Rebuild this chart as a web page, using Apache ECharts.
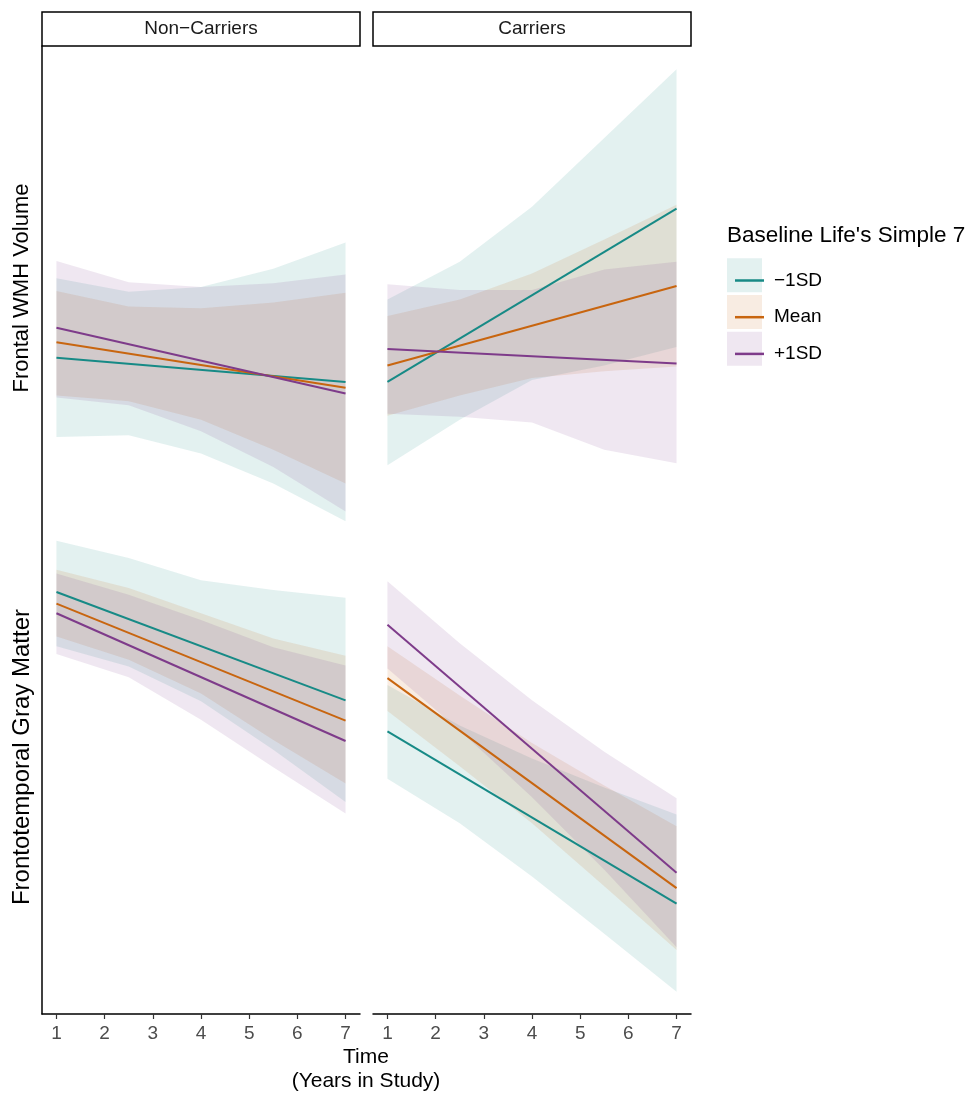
<!DOCTYPE html>
<html>
<head>
<meta charset="utf-8">
<script src="https://cdn.jsdelivr.net/npm/echarts@6/dist/echarts.min.js"></script>
<style>
    html, body { margin: 0; padding: 0; background: #fff; }
    #chart { width: 972px; height: 1093px; }
</style>
</head>
<body>
<div id="chart"></div>
<script>
// ---- data (shared y scale, arbitrary units: WMH block on top, gray matter below) ----
const groups = ['\u22121SD', 'Mean', '+1SD'];
const panels = ['Non\u2212Carriers', 'Carriers'];
const xTicks = [1, 2, 3, 4, 5, 6, 7];
const bandX = [1, 2.5, 4, 5.5, 7];   // where the ribbons were evaluated
const fitX = [1, 7];                 // straight fitted lines

// Non-Carriers, Frontal WMH Volume
const ncWmhFit = [[67.8, 65.3], [69.4, 64.7], [70.9, 64.1]];
const ncWmhLo = [[59.6, 59.8, 57.9, 54.8, 50.9], [63.9, 63.3, 61.4, 58.3, 54.8], [63.7, 62.9, 60.2, 56.5, 51.9]];
const ncWmhHi = [[76.0, 74.6, 75.1, 77.0, 79.7], [74.7, 73.1, 72.9, 73.5, 74.5], [77.8, 75.6, 75.1, 75.5, 76.4]];

// Carriers, Frontal WMH Volume
const cWmhFit = [[65.3, 83.2], [67.0, 75.2], [68.7, 67.2]];
const cWmhLo = [[56.7, 61.4, 65.5, 67.0, 68.9], [61.8, 63.9, 65.7, 66.4, 66.9], [62.0, 61.7, 61.1, 58.3, 56.9]];
const cWmhHi = [[73.8, 77.7, 83.4, 90.5, 97.6], [72.1, 73.8, 76.5, 80.0, 83.6], [75.4, 74.8, 74.8, 76.9, 77.7]];

// Non-Carriers, Frontotemporal Gray Matter
const ncGmFit = [[43.6, 32.4], [42.4, 30.3], [41.4, 28.2]];
const ncGmLo = [[38.0, 35.9, 32.3, 27.3, 21.9], [39.0, 36.6, 33.1, 28.3, 23.8], [37.2, 34.8, 30.4, 25.5, 20.7]];
const ncGmHi = [[48.9, 47.1, 44.8, 43.8, 43.0], [45.9, 44.0, 41.4, 38.8, 37.0], [45.5, 43.3, 40.7, 37.9, 36.0]];

// Carriers, Frontotemporal Gray Matter
const cGmFit = [[29.2, 11.4], [34.7, 13.0], [40.2, 14.6]];
const cGmLo = [[24.3, 19.7, 14.2, 8.3, 2.3], [31.3, 25.6, 19.7, 13.2, 6.6], [35.7, 29.3, 22.4, 14.9, 6.9]];
const cGmHi = [[34.0, 29.8, 26.4, 23.4, 20.6], [38.0, 32.9, 28.0, 23.6, 19.4], [44.7, 38.3, 32.4, 27.1, 22.3]];

const colors = ['#178A86', '#C8650F', '#7E3B8A'];
const FONT = '"Liberation Sans", Arial, Helvetica, sans-serif';

const chart = echarts.init(document.getElementById('chart'));

// [panel index, fit, lower, upper]
const blocks = [
    [0, ncWmhFit, ncWmhLo, ncWmhHi],
    [1, cWmhFit, cWmhLo, cWmhHi],
    [0, ncGmFit, ncGmLo, ncGmHi],
    [1, cGmFit, cGmLo, cGmHi],
];

// ribbon: one polygon per series, built on the first data item
function ribbonRenderer(color) {
    return function (params, api) {
        if (params.dataIndexInside !== 0) return null;
        const n = params.dataInsideLength;
        const top = [], bottom = [];
        for (let i = 0; i < n; i++) {
            top.push(api.coord([api.value(0, i), api.value(2, i)]));
            bottom.unshift(api.coord([api.value(0, i), api.value(1, i)]));
        }
        return {
            type: 'polygon',
            shape: { points: top.concat(bottom) },
            style: { fill: color, opacity: 0.12 },
        };
    };
}

const bands = [];
const lines = [];
blocks.forEach(([p, fit, lo, hi]) => {
    groups.forEach((g, gi) => {
        bands.push({
            type: 'custom', xAxisIndex: p, yAxisIndex: p,
            data: bandX.map((x, i) => [x, lo[gi][i], hi[gi][i]]),
            encode: { x: 0, y: [1, 2] },
            renderItem: ribbonRenderer(colors[gi]),
            silent: true, z: 1, animation: false,
        });
        lines.push({
            name: g, type: 'line', xAxisIndex: p, yAxisIndex: p,
            data: fitX.map((x, i) => [x, fit[gi][i]]),
            symbol: 'none', silent: true, z: 3, animation: false,
            lineStyle: { color: colors[gi], width: 2 },
            itemStyle: { color: colors[gi] },
        });
    });
});

const xAxisBase = {
    type: 'value', min: 0.7, max: 7.3,
    axisLine: { lineStyle: { color: '#000', width: 1.5 } },
    axisTick: { customValues: xTicks, length: 5, lineStyle: { color: '#333', width: 1.2 } },
    axisLabel: { customValues: xTicks, fontSize: 19, fontFamily: FONT, color: '#4d4d4d', margin: 10 },
    splitLine: { show: false },
};
const yAxisBase = {
    type: 'value', min: 0, max: 100,
    axisTick: { show: false }, axisLabel: { show: false }, splitLine: { show: false },
};

const keyY = [258.3, 295, 331.7];

chart.setOption({
    backgroundColor: '#fff',
    animation: false,
    grid: [
        { left: 42, top: 46, width: 318, height: 968 },
        { left: 373, top: 46, width: 318, height: 968 },
    ],
    xAxis: [
        { ...xAxisBase, gridIndex: 0 },
        { ...xAxisBase, gridIndex: 1 },
    ],
    yAxis: [
        { ...yAxisBase, gridIndex: 0, axisLine: { show: true, lineStyle: { color: '#000', width: 1.5 } } },
        { ...yAxisBase, gridIndex: 1, axisLine: { show: false } },
    ],
    legend: {
        data: groups, orient: 'vertical', left: 730, top: 258,
        icon: 'rect', itemWidth: 29, itemHeight: 2.5, itemGap: 1.7,
        selectedMode: false,
        textStyle: { fontSize: 19, fontFamily: FONT, color: '#000', lineHeight: 35, padding: [0, 0, 0, 5] },
    },
    graphic: [
        // facet strips
        ...panels.map((t, i) => ({
            type: 'group', children: [
                { type: 'rect', shape: { x: [42, 373][i], y: 12, width: 318, height: 34 },
                  style: { fill: '#fff', stroke: '#000', lineWidth: 1.5 } },
                { type: 'text', x: [201, 532][i], y: 29,
                  style: { text: t, fontSize: 19, fontFamily: FONT, fill: '#1a1a1a', align: 'center', verticalAlign: 'middle' } },
            ],
        })),
        // y titles
        { type: 'text', x: 22, y: 288, rotation: Math.PI / 2,
          style: { text: 'Frontal WMH Volume', fontSize: 22, fontFamily: FONT, fill: '#000', align: 'center', verticalAlign: 'middle' } },
        { type: 'text', x: 22, y: 757, rotation: Math.PI / 2,
          style: { text: 'Frontotemporal Gray Matter', fontSize: 24, fontFamily: FONT, fill: '#000', align: 'center', verticalAlign: 'middle' } },
        // x title
        { type: 'text', x: 366, y: 1057,
          style: { text: 'Time', fontSize: 21, fontFamily: FONT, fill: '#000', align: 'center', verticalAlign: 'middle' } },
        { type: 'text', x: 366, y: 1081,
          style: { text: '(Years in Study)', fontSize: 21, fontFamily: FONT, fill: '#000', align: 'center', verticalAlign: 'middle' } },
        // legend title + key backgrounds
        { type: 'text', x: 727, y: 236,
          style: { text: "Baseline Life's Simple 7", fontSize: 22.5, fontFamily: FONT, fill: '#000', align: 'left', verticalAlign: 'middle' } },
        ...colors.map((c, i) => ({
            type: 'rect', z: -1, shape: { x: 727, y: keyY[i], width: 35, height: 34 },
            style: { fill: c, opacity: 0.12 },
        })),
    ],
    series: [...bands, ...lines],
});
</script>
</body>
</html>
